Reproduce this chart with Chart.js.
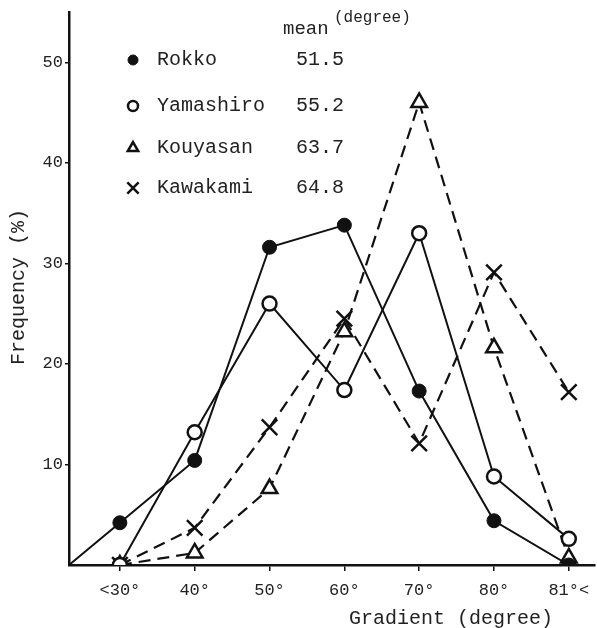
<!DOCTYPE html>
<html>
<head>
<meta charset="utf-8">
<script src="https://cdn.jsdelivr.net/npm/chart.js@4.4.1/dist/chart.umd.min.js"></script>
<style>
  html, body { margin: 0; padding: 0; background: #fff; }
  canvas { display: block; }
</style>
</head>
<body>
<canvas id="gradChart" width="597" height="628"></canvas>
<script>
// gradient classes (x) and their labels
const gradientDeg = [30, 40, 50, 60, 70, 80, 90];
const categories = ['<30°', '40°', '50°', '60°', '70°', '80°', '81°<'];
const xMin = 23.2;   // where the axes cross
const xMax = 93.5;

// frequency (%) per site
const rokko     = [4.2, 10.4, 31.6, 33.8, 17.3, 4.4, 0];
const yamashiro = [0, 13.2, 26.0, 17.4, 33.0, 8.8, 2.6];
const kouyasan  = [0, 1.2, 7.6, 23.2, 46.0, 21.6, 0.7];
const kawakami  = [0, 3.7, 13.7, 24.5, 12.1, 29.1, 17.2];

const siteNames = ['Rokko', 'Yamashiro', 'Kouyasan', 'Kawakami'];
const meanDeg = ['51.5', '55.2', '63.7', '64.8'];
const yTicks = [10, 20, 30, 40, 50];

const INK = '#111';
const TEXT = '#222';
const MONO = '"Liberation Mono", "Courier New", monospace';

const toPoints = vals => vals.map((v, i) => ({ x: gradientDeg[i], y: v }));

// Rokko's line starts from the origin
const rokkoPts = [{ x: xMin, y: 0 }].concat(toPoints(rokko));

// legend with mean column, axis titles
const overlay = {
    id: 'overlay',
    afterDraw(chart) {
        const ctx = chart.ctx;
        ctx.save();
        ctx.fillStyle = TEXT;
        ctx.strokeStyle = INK;
        ctx.textBaseline = 'middle';

        // axis titles
        ctx.font = '20px ' + MONO;
        ctx.textAlign = 'center';
        ctx.fillText('Gradient (degree)', 451, 619);
        ctx.save();
        ctx.translate(19, 287);
        ctx.rotate(-Math.PI / 2);
        ctx.fillText('Frequency (%)', 0, 0);
        ctx.restore();

        // legend header
        ctx.textAlign = 'left';
        ctx.font = '19px ' + MONO;
        ctx.fillText('mean', 283, 29);
        ctx.font = '16px ' + MONO;
        ctx.fillText('(degree)', 334, 18);

        const rows = [60, 106, 148, 188];
        const styles = [
            { pointStyle: 'circle', radius: 5, fill: true, lw: 1 },
            { pointStyle: 'circle', radius: 5, fill: false, lw: 2.5 },
            { pointStyle: 'triangle', radius: 6, fill: false, lw: 2.5 },
            { pointStyle: 'crossRot', radius: 8, fill: false, lw: 2.5 }
        ];
        ctx.font = '20px ' + MONO;
        rows.forEach((y, i) => {
            const s = styles[i];
            ctx.lineWidth = s.lw;
            ctx.fillStyle = s.fill ? INK : '#fff';
            Chart.helpers.drawPoint(ctx, { pointStyle: s.pointStyle, radius: s.radius, rotation: 0, borderWidth: s.lw }, 133, y);
            ctx.fillStyle = TEXT;
            ctx.fillText(siteNames[i], 157, y);
            ctx.fillText(meanDeg[i], 296, y);
        });
        ctx.restore();
    }
};

new Chart(document.getElementById('gradChart').getContext('2d'), {
    type: 'line',
    data: {
        datasets: [
            {
                label: siteNames[0],
                data: rokkoPts,
                borderColor: INK,
                backgroundColor: INK,
                borderWidth: 2,
                pointStyle: 'circle',
                pointRadius: rokkoPts.map((p, i) => i === 0 ? 0 : 7),
                pointBorderWidth: 1
            },
            {
                label: siteNames[1],
                data: toPoints(yamashiro),
                borderColor: INK,
                backgroundColor: '#fff',
                borderWidth: 2,
                pointStyle: 'circle',
                pointRadius: 7,
                pointBorderWidth: 2.5
            },
            {
                label: siteNames[2],
                data: toPoints(kouyasan),
                borderColor: INK,
                backgroundColor: '#fff',
                borderWidth: 2.2,
                borderDash: [12, 7],
                pointStyle: 'triangle',
                pointRadius: 9,
                pointBorderWidth: 2.5
            },
            {
                label: siteNames[3],
                data: toPoints(kawakami),
                borderColor: INK,
                backgroundColor: '#fff',
                borderWidth: 2.2,
                borderDash: [12, 7],
                pointStyle: 'crossRot',
                pointRadius: 11,
                pointBorderWidth: 2.5
            }
        ]
    },
    options: {
        responsive: false,
        animation: false,
        layout: { autoPadding: false, padding: { top: 12, right: 2, left: 0, bottom: 0 } },
        plugins: {
            legend: { display: false },
            tooltip: { enabled: false }
        },
        elements: { line: { tension: 0 } },
        scales: {
            x: {
                type: 'linear',
                min: xMin,
                max: xMax,
                afterBuildTicks: s => { s.ticks = gradientDeg.map(v => ({ value: v })); },
                afterFit: s => { s.height = 63; s.paddingLeft = 0; s.paddingRight = 0; },
                ticks: {
                    color: TEXT,
                    padding: 9,
                    maxRotation: 0,
                    font: { family: MONO, size: 17 },
                    callback: (v) => categories[gradientDeg.indexOf(v)]
                },
                grid: { drawOnChartArea: false, color: INK, lineWidth: 1.5, tickLength: 6 },
                border: { color: INK, width: 2.5 }
            },
            y: {
                min: 0,
                max: 55,
                afterBuildTicks: s => { s.ticks = yTicks.map(v => ({ value: v })); },
                afterFit: s => { s.width = 69; s.paddingTop = 0; s.paddingBottom = 0; },
                ticks: {
                    color: TEXT,
                    padding: 2,
                    font: { family: MONO, size: 17 }
                },
                grid: { drawOnChartArea: false, color: INK, lineWidth: 1.5, tickLength: 4 },
                border: { color: INK, width: 2.5 }
            }
        }
    },
    plugins: [overlay]
});
</script>
</body>
</html>
